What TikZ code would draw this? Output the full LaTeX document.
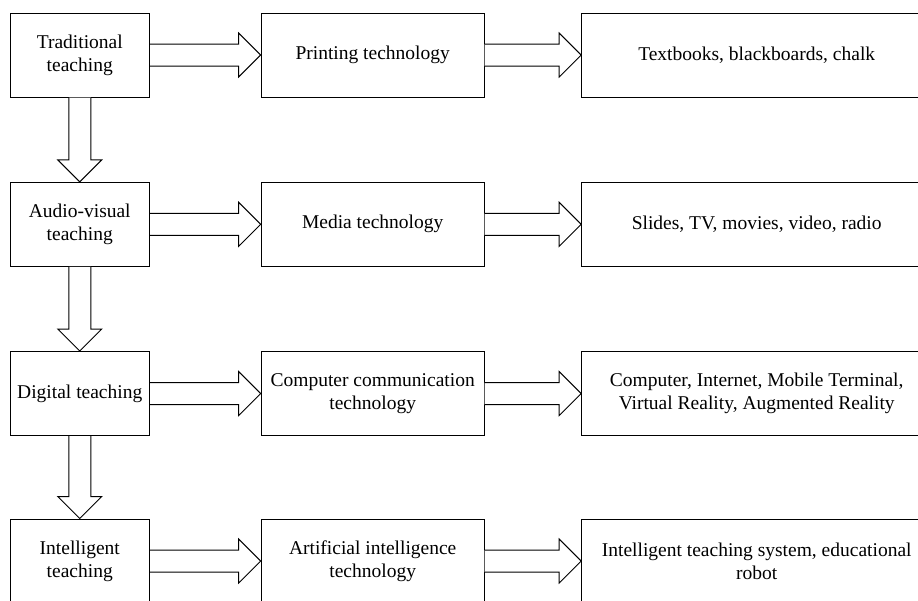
\documentclass[tikz,border=0pt]{standalone}
\usepackage{fontspec}
\setmainfont{Liberation Serif}
\usetikzlibrary{calc}
\begin{document}
\begin{tikzpicture}[x=1pt,y=-1pt,
  box/.style={draw, line width=1pt, inner sep=0pt, align=center,
    font=\fontsize{19.5}{23}\selectfont, minimum height=84pt},
  lbox/.style={box, minimum width=139.5pt},
  mbox/.style={box, minimum width=223pt},
  rbox/.style={box, minimum width=350pt},
  fat/.style={draw, line width=1pt, fill=white, line join=miter}]
\useasboundingbox (0,0) rectangle (918,600);
\clip (0,0) rectangle (918,600);
\fill[white] (0,0) rectangle (918,600);
% row 1
\node[lbox] (l1) at (79.75,55) {Traditional\\teaching};
\node[mbox] (m1) at (372.7,55) {Printing technology};
\node[rbox] (r1) at (756.7,55) {Textbooks, blackboards, chalk};
% row 2
\node[lbox] (l2) at (79.75,224.3) {Audio-visual\\teaching};
\node[mbox] (m2) at (372.7,224.3) {Media technology};
\node[rbox] (r2) at (756.7,224.3) {Slides, TV, movies, video, radio};
% row 3
\node[lbox] (l3) at (79.75,393.5) {Digital teaching};
\node[mbox] (m3) at (372.7,393.5) {Computer communication\\technology};
\node[rbox] (r3) at (756.7,393.5) {Computer, Internet, Mobile Terminal,\\Virtual Reality, Augmented Reality};
% row 4
\node[lbox] (l4) at (79.75,561) {Intelligent\\teaching};
\node[mbox] (m4) at (372.7,561) {Artificial intelligence\\technology};
\node[rbox] (r4) at (756.7,561) {Intelligent teaching system, educational\\robot};
% horizontal fat arrows
\foreach \a/\b in {l1/m1,m1/r1,l2/m2,m2/r2,l3/m3,m3/r3,l4/m4,m4/r4}{
  \draw[fat] ($(\a.east)+(0,-11)$) -- ($(\b.west)+(-22,-11)$) -- ($(\b.west)+(-22,-22)$)
    -- (\b.west) -- ($(\b.west)+(-22,22)$) -- ($(\b.west)+(-22,11)$) -- ($(\a.east)+(0,11)$);
}
% vertical fat arrows
\foreach \a/\b in {l1/l2,l2/l3,l3/l4}{
  \draw[fat] ($(\a.south)+(-11,0)$) -- ($(\b.north)+(-11,-22)$) -- ($(\b.north)+(-22,-22)$)
    -- (\b.north) -- ($(\b.north)+(22,-22)$) -- ($(\b.north)+(11,-22)$) -- ($(\a.south)+(11,0)$);
}
\end{tikzpicture}
\end{document}
